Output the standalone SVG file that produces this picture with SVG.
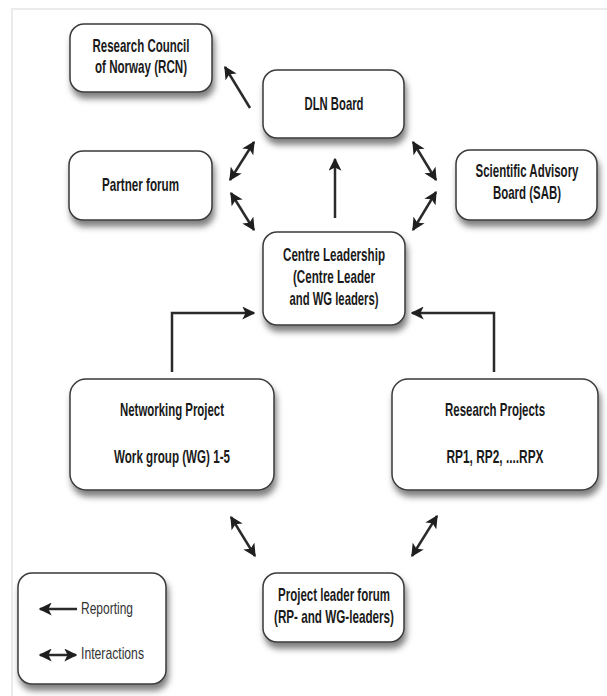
<svg xmlns="http://www.w3.org/2000/svg" width="607" height="696" viewBox="0 0 607 696">
  <style>
    .box { fill: #ffffff; stroke: #3a3a3a; stroke-width: 1.5; filter: url(#shadow); }
    .lbl { font-family: "Liberation Sans Narrow", "Liberation Sans", Arial, sans-serif; font-weight: bold; font-size: 18.5px; fill: #1a1a1a; text-anchor: middle; }
    .key { font-family: "Liberation Sans Narrow", "Liberation Sans", Arial, sans-serif; font-size: 17px; fill: #333333; }
    .link { fill: none; stroke: #2a2a2a; stroke-width: 2.5; }
    .report { marker-end: url(#head); }
    .both { marker-start: url(#head); marker-end: url(#head); }
  </style>
  <defs>
    <filter id="shadow" x="-20%" y="-20%" width="150%" height="170%">
      <feDropShadow dx="2" dy="6" stdDeviation="3" flood-color="#000000" flood-opacity="0.5"/>
    </filter>
    <marker id="head" viewBox="0 0 10 10" refX="9" refY="5" markerWidth="13" markerHeight="13" markerUnits="userSpaceOnUse" orient="auto-start-reverse">
      <path d="M0,0 L10,5 L0,10 L2.5,5 z" fill="#1f1f1f"/>
    </marker>
  </defs>

  <rect x="0" y="0" width="607" height="696" fill="#ffffff"/>
  <!-- page frame -->
  <path d="M12,696 V9 H607" fill="none" stroke="#ebebeb" stroke-width="2"/>

  <g id="connectors">
    <line class="link report" x1="250" y1="108" x2="225" y2="67"/>
    <line class="link report" x1="335" y1="218" x2="335" y2="159"/>
    <line class="link both" x1="413" y1="142" x2="436" y2="180"/>
    <line class="link both" x1="436" y1="192" x2="413" y2="230"/>
    <line class="link both" x1="254" y1="142" x2="230" y2="180"/>
    <line class="link both" x1="231" y1="193" x2="254" y2="230"/>
    <path class="link report" d="M172,372 V313 H254"/>
    <path class="link report" d="M494,372 V313 H412"/>
    <line class="link both" x1="231" y1="517" x2="255" y2="556"/>
    <line class="link both" x1="437" y1="516" x2="412" y2="556"/>
  </g>

  <g id="rcn">
    <rect class="box" x="70" y="24" width="142" height="68" rx="14"/>
    <text class="lbl" x="141" y="52" textLength="97" lengthAdjust="spacingAndGlyphs">Research Council</text>
    <text class="lbl" x="141" y="73" textLength="92" lengthAdjust="spacingAndGlyphs">of Norway (RCN)</text>
  </g>

  <g id="dln-board">
    <rect class="box" x="263" y="70" width="141" height="68" rx="14"/>
    <text class="lbl" x="334" y="110" textLength="59" lengthAdjust="spacingAndGlyphs">DLN Board</text>
  </g>

  <g id="sab">
    <rect class="box" x="456" y="150" width="141" height="70" rx="14"/>
    <text class="lbl" x="527" y="177" textLength="103" lengthAdjust="spacingAndGlyphs">Scientific Advisory</text>
    <text class="lbl" x="527" y="199" textLength="68" lengthAdjust="spacingAndGlyphs">Board (SAB)</text>
  </g>

  <g id="partner-forum">
    <rect class="box" x="69" y="151" width="143" height="69" rx="14"/>
    <text class="lbl" x="140.5" y="191" textLength="77" lengthAdjust="spacingAndGlyphs">Partner forum</text>
  </g>

  <g id="centre-leadership">
    <rect class="box" x="263" y="232" width="142" height="93" rx="14"/>
    <text class="lbl" x="334" y="261" textLength="102" lengthAdjust="spacingAndGlyphs">Centre Leadership</text>
    <text class="lbl" x="334" y="283" textLength="82" lengthAdjust="spacingAndGlyphs">(Centre Leader</text>
    <text class="lbl" x="334" y="305" textLength="89" lengthAdjust="spacingAndGlyphs">and WG leaders)</text>
  </g>

  <g id="networking-project">
    <rect class="box" x="70" y="379" width="204" height="111" rx="16"/>
    <text class="lbl" x="172" y="416" textLength="104" lengthAdjust="spacingAndGlyphs">Networking Project</text>
    <text class="lbl" x="172" y="463" textLength="116" lengthAdjust="spacingAndGlyphs">Work group (WG) 1-5</text>
  </g>

  <g id="research-projects">
    <rect class="box" x="392" y="379" width="206" height="111" rx="16"/>
    <text class="lbl" x="495" y="416" textLength="100" lengthAdjust="spacingAndGlyphs">Research Projects</text>
    <text class="lbl" x="495" y="463" textLength="97" lengthAdjust="spacingAndGlyphs">RP1, RP2, ....RPX</text>
  </g>

  <g id="project-leader-forum">
    <rect class="box" x="263" y="573" width="141" height="69" rx="14"/>
    <text class="lbl" x="334" y="601" textLength="112" lengthAdjust="spacingAndGlyphs">Project leader forum</text>
    <text class="lbl" x="334" y="623" textLength="120" lengthAdjust="spacingAndGlyphs">(RP- and WG-leaders)</text>
  </g>

  <g id="legend">
    <rect class="box" x="18" y="573" width="148" height="111" rx="14"/>
    <line class="link report" x1="77" y1="609" x2="40" y2="609"/>
    <text class="key" x="81" y="614" textLength="52" lengthAdjust="spacingAndGlyphs">Reporting</text>
    <line class="link both" x1="40" y1="655" x2="76" y2="655"/>
    <text class="key" x="81" y="659" textLength="63" lengthAdjust="spacingAndGlyphs">Interactions</text>
  </g>
</svg>
